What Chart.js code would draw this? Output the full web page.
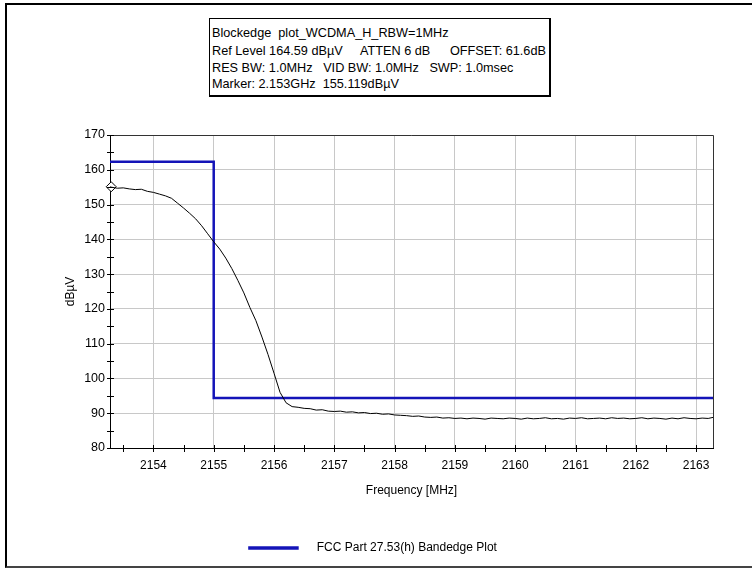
<!DOCTYPE html>
<html>
<head>
<meta charset="utf-8">
<script src="https://cdn.jsdelivr.net/npm/chart.js@4.4.1/dist/chart.umd.min.js"></script>
<style>
  html, body { margin: 0; padding: 0; background: #fff; }
  body { width: 752px; height: 569px; position: relative; overflow: hidden; font-family: "Liberation Sans", Arial, sans-serif; }
  #frame { position: absolute; left: 5px; top: 3px; width: 800px; height: 565px; box-sizing: border-box;
           border-left: 2px solid #000; border-top: 2px solid #000; border-bottom: 2px solid #444; }
  #chart { position: absolute; left: 0; top: 0; }
  #info { position: absolute; left: 209px; top: 18px; width: 342px; height: 79px; box-sizing: border-box;
          border: 1px solid #000; border-right-width: 2px; border-bottom-width: 2px; background: #fff;
          font-size: 12.7px; line-height: 17px; color: #000; }
  #info span { position: absolute; white-space: pre; }
</style>
</head>
<body>
<div id="frame"></div>
<canvas id="chart" width="752" height="569"></canvas>
<div id="info">
  <span style="left:2px;top:6px">Blockedge  plot_WCDMA_H_RBW=1MHz</span>
  <span style="left:2px;top:24px">Ref Level 164.59 dBµV</span>
  <span style="left:150px;top:24px">ATTEN 6 dB</span>
  <span style="left:240px;top:24px">OFFSET: 61.6dB</span>
  <span style="left:2px;top:41px">RES BW: 1.0MHz   VID BW: 1.0MHz   SWP: 1.0msec</span>
  <span style="left:2px;top:57px">Marker: 2.153GHz  155.119dBµV</span>
</div>
<script>
// Axis ranges and tick labels
const xMin = 2153.28, xMax = 2163.28;
const yMin = 80, yMax = 170;
const xTicks = [2154, 2155, 2156, 2157, 2158, 2159, 2160, 2161, 2162, 2163];
const xMinorTicks = [2153.5, 2154.5, 2155.5, 2156.5, 2157.5, 2158.5, 2159.5, 2160.5, 2161.5, 2162.5];
const yTicks = [80, 90, 100, 110, 120, 130, 140, 150, 160, 170];
const yMinorTicks = [85, 95, 105, 115, 125, 135, 145, 155, 165];

// Measured trace (MHz / dBµV)
const traceFreq = [
  2153.28,
  2153.3, 2153.4, 2153.5, 2153.6, 2153.7, 2153.8, 2153.9, 2154.0, 2154.1, 2154.2,
  2154.3, 2154.4, 2154.5, 2154.6, 2154.7, 2154.8, 2154.9, 2155.0, 2155.1, 2155.2,
  2155.3, 2155.4, 2155.5, 2155.6, 2155.7, 2155.8, 2155.9, 2156.0, 2156.1, 2156.2,
  2156.3, 2156.4, 2156.5, 2156.6, 2156.7, 2156.8, 2156.9, 2157.0, 2157.1, 2157.2,
  2157.3, 2157.4, 2157.5, 2157.6, 2157.7, 2157.8, 2157.9, 2158.0, 2158.1, 2158.2,
  2158.3, 2158.4, 2158.5, 2158.6, 2158.7, 2158.8, 2158.9, 2159.0, 2159.1, 2159.2,
  2159.3, 2159.4, 2159.5, 2159.6, 2159.7, 2159.8, 2159.9, 2160.0, 2160.1, 2160.2,
  2160.3, 2160.4, 2160.5, 2160.6, 2160.7, 2160.8, 2160.9, 2161.0, 2161.1, 2161.2,
  2161.3, 2161.4, 2161.5, 2161.6, 2161.7, 2161.8, 2161.9, 2162.0, 2162.1, 2162.2,
  2162.3, 2162.4, 2162.5, 2162.6, 2162.7, 2162.8, 2162.9, 2163.0, 2163.1, 2163.2,
  2163.28
];
const traceLevel = [
  155.1,
  155.0, 154.7, 154.8, 154.5, 154.3, 154.4, 153.8, 153.5, 153.0, 152.5,
  151.8, 150.4, 149.0, 147.5, 145.9, 143.9, 141.6, 139.3, 137.2, 134.6,
  131.6, 128.2, 124.6, 120.4, 116.6, 111.9, 106.9, 101.5, 96.0, 93.0,
  91.9, 91.7, 91.4, 91.3, 90.9, 91.0, 90.6, 90.5, 90.6, 90.3,
  90.4, 90.1, 90.2, 89.9, 90.0, 89.7, 89.8, 89.5, 89.4, 89.3,
  89.1, 89.2, 88.9, 88.8, 88.9, 88.6, 88.7, 88.5, 88.6, 88.4,
  88.6, 88.5, 88.3, 88.6, 88.5, 88.4, 88.6, 88.5, 88.3, 88.6,
  88.4, 88.5, 88.7, 88.4, 88.5, 88.3, 88.6, 88.5, 88.7, 88.4,
  88.5, 88.6, 88.4, 88.7, 88.5, 88.6, 88.4, 88.5, 88.7, 88.4,
  88.6, 88.5, 88.3, 88.6, 88.4, 88.7, 88.5, 88.4, 88.6, 88.5,
  88.8
];

// FCC limit line
const limitFreq = [2153.28, 2155, 2155, 2163.28];
const limitLevel = [162.3, 162.3, 94.4, 94.4];

// Marker
const markerFreq = [2153.3];
const markerLevel = [155.119];

const toPoints = (xs, ys) => xs.map((x, i) => ({ x: x, y: ys[i] }));

// draws the plot frame (top/right) and small tick marks crossing the axes
const frameTicks = {
    id: 'frameTicks',
    afterDatasetsDraw(chart) {
        const { ctx, chartArea: a, scales: { x, y } } = chart;
        ctx.save();
        ctx.lineWidth = 1;
        ctx.strokeStyle = '#333';
        ctx.beginPath();
        ctx.moveTo(a.left, a.top + 0.5);
        ctx.lineTo(a.right + 0.5, a.top + 0.5);
        ctx.lineTo(a.right + 0.5, a.bottom);
        ctx.stroke();

        ctx.strokeStyle = '#000';
        ctx.beginPath();
        xTicks.concat(xMinorTicks).forEach(v => {
            const px = Math.round(x.getPixelForValue(v)) + 0.5;
            ctx.moveTo(px, a.bottom - 3);
            ctx.lineTo(px, a.bottom + 4);
        });
        yTicks.concat(yMinorTicks).forEach(v => {
            const py = Math.round(y.getPixelForValue(v)) + 0.5;
            ctx.moveTo(a.left - 3, py);
            ctx.lineTo(a.left + 4, py);
        });
        ctx.stroke();
        ctx.restore();
    }
};

Chart.defaults.font.family = '"Liberation Sans", Arial, sans-serif';
Chart.defaults.font.size = 12;
Chart.defaults.color = '#000';

new Chart(document.getElementById('chart'), {
    type: 'line',
    data: {
        datasets: [
            {
                label: 'Trace',
                data: toPoints(traceFreq, traceLevel),
                borderColor: '#000',
                borderWidth: 1,
                pointRadius: 0,
                tension: 0
            },
            {
                label: '    FCC Part 27.53(h) Bandedge Plot     ',
                data: toPoints(limitFreq, limitLevel),
                borderColor: '#1414b8',
                backgroundColor: '#1414b8',
                borderWidth: 2.5,
                pointRadius: 0,
                tension: 0
            },
            {
                label: 'Marker',
                data: toPoints(markerFreq, markerLevel),
                showLine: false,
                pointStyle: 'rectRot',
                pointRadius: 5,
                pointBorderColor: '#000',
                pointBackgroundColor: '#fff',
                pointBorderWidth: 1,
                clip: false
            }
        ]
    },
    options: {
        responsive: false,
        animation: false,
        devicePixelRatio: 1,
        layout: { padding: { left: 50, right: 39, top: 135, bottom: 5 } },
        plugins: {
            legend: {
                position: 'bottom',
                labels: {
                    boxWidth: 48,
                    boxHeight: 1,
                    filter: item => item.datasetIndex === 1
                }
            },
            tooltip: { enabled: false }
        },
        scales: {
            x: {
                type: 'linear',
                min: xMin,
                max: xMax,
                afterBuildTicks: s => { s.ticks = xTicks.map(v => ({ value: v })); },
                afterFit: s => { s.height = 84; },
                ticks: { padding: 10, maxRotation: 0, callback: v => String(v) },
                grid: { color: '#c8c8c8', drawTicks: false },
                border: { color: '#000' },
                title: { display: true, text: 'Frequency [MHz]', padding: { top: 0, bottom: 34 } }
            },
            y: {
                min: yMin,
                max: yMax,
                afterBuildTicks: s => { s.ticks = yTicks.map(v => ({ value: v })); },
                afterFit: s => { s.width = 60; },
                ticks: { padding: 5, font: { size: 12.5 } },
                grid: { color: '#c8c8c8', drawTicks: false },
                border: { color: '#000' },
                title: { display: true, text: 'dBµV', padding: { top: 13, bottom: 0 } }
            }
        }
    },
    plugins: [frameTicks]
});
</script>
</body>
</html>
